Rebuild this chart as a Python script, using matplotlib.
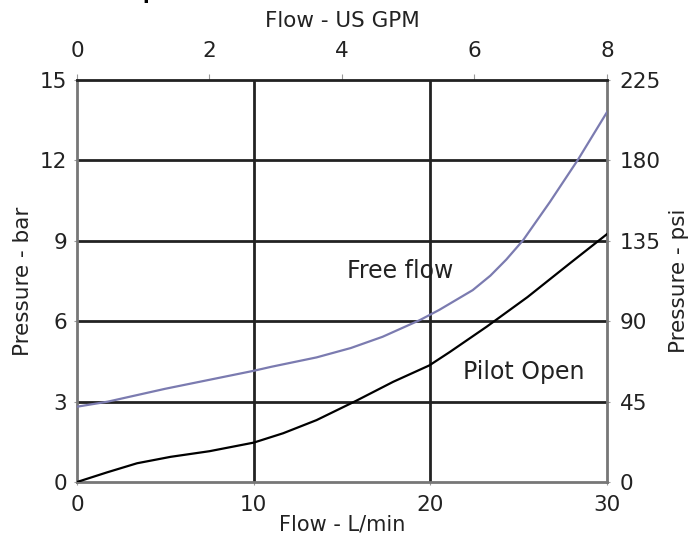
import matplotlib.pyplot as plt

plt.rcParams['font.family'] = ['DejaVu Sans']

# Free flow curve (L/min, bar)
free_flow_x = [0, 1.75, 5, 10, 11, 13.56, 15.5, 17.3, 19.4, 20.5, 22.4, 23.4, 24.3, 25.26, 26.77, 28.37, 30]
free_flow_y = [2.81, 3.0, 3.48, 4.15, 4.3, 4.65, 5.0, 5.42, 6.04, 6.42, 7.16, 7.7, 8.3, 9.03, 10.45, 12.04, 13.8]

# Pilot open curve (L/min, bar)
pilot_x = [0, 1.7, 3.4, 5.3, 7.5, 10, 11.67, 13.56, 15.8, 17.9, 19.94, 21.1, 23.2, 25.5, 27.9, 30]
pilot_y = [0, 0.36, 0.70, 0.94, 1.15, 1.47, 1.82, 2.31, 3.03, 3.74, 4.35, 4.85, 5.8, 6.9, 8.16, 9.25]

lpm_ticks = [0, 10, 20, 30]
bar_ticks = [0, 3, 6, 9, 12, 15]
gpm_ticks = [0, 2, 4, 6, 8]
psi_ticks = [0, 45, 90, 135, 180, 225]

LPM_PER_GPM = 3.75
PSI_PER_BAR = 15
TEXT = '#222222'
FS = 15.5

fig = plt.figure(figsize=(6.91, 5.36), dpi=100)
ax = fig.add_axes([0.1114, 0.1007, 0.767, 0.75])

for y in bar_ticks[1:-1]:
    ax.axhline(y, color='#222222', lw=2, zorder=1)
for x in lpm_ticks[1:-1]:
    ax.axvline(x, color='#222222', lw=2, zorder=1)

ax.plot(free_flow_x, free_flow_y, color='#7b7bb0', lw=1.6, zorder=3)
ax.plot(pilot_x, pilot_y, color='black', lw=1.6, zorder=3)

ax.text(18.3, 7.88, 'Free flow', fontsize=17, ha='center', va='center', color=TEXT)
ax.text(25.3, 4.1, 'Pilot Open', fontsize=17, ha='center', va='center', color=TEXT)

ax.set_xlim(0, 30)
ax.set_ylim(0, 15)
ax.set_xticks(lpm_ticks)
ax.set_yticks(bar_ticks)
ax.tick_params(axis='x', labelsize=FS, length=2, color='#999999', labelcolor=TEXT, pad=7)
ax.tick_params(axis='y', labelsize=FS, length=2, color='#999999', labelcolor=TEXT, pad=5)
ax.set_xlabel('Flow - L/min', fontsize=15, labelpad=0, color=TEXT)
ax.set_ylabel('Pressure - bar', fontsize=FS, labelpad=5, color=TEXT)

for side in ['left', 'right', 'bottom']:
    ax.spines[side].set_color('#777777')
    ax.spines[side].set_linewidth(2)
ax.spines['top'].set_color('#222222')
ax.spines['top'].set_linewidth(2)

top = ax.secondary_xaxis('top', functions=(lambda v: v / LPM_PER_GPM, lambda v: v * LPM_PER_GPM))
top.set_xticks(gpm_ticks)
top.tick_params(labelsize=FS, length=4, color='#999999', labelcolor=TEXT, pad=10)
top.set_xlabel('Flow - US GPM', fontsize=FS, labelpad=10, color=TEXT)

right = ax.secondary_yaxis('right', functions=(lambda v: v * PSI_PER_BAR, lambda v: v / PSI_PER_BAR))
right.set_yticks(psi_ticks)
right.tick_params(labelsize=FS, length=2, color='#999999', labelcolor=TEXT, pad=7)
right.set_ylabel('Pressure - psi', fontsize=FS, labelpad=6, color=TEXT)

# title sits mostly above the top edge, as in the source image
fig.text(0.0, 1.012, 'Pressure Drop', fontsize=14, fontweight='bold', ha='left', va='center')

fig.savefig('out.png', dpi=100)
